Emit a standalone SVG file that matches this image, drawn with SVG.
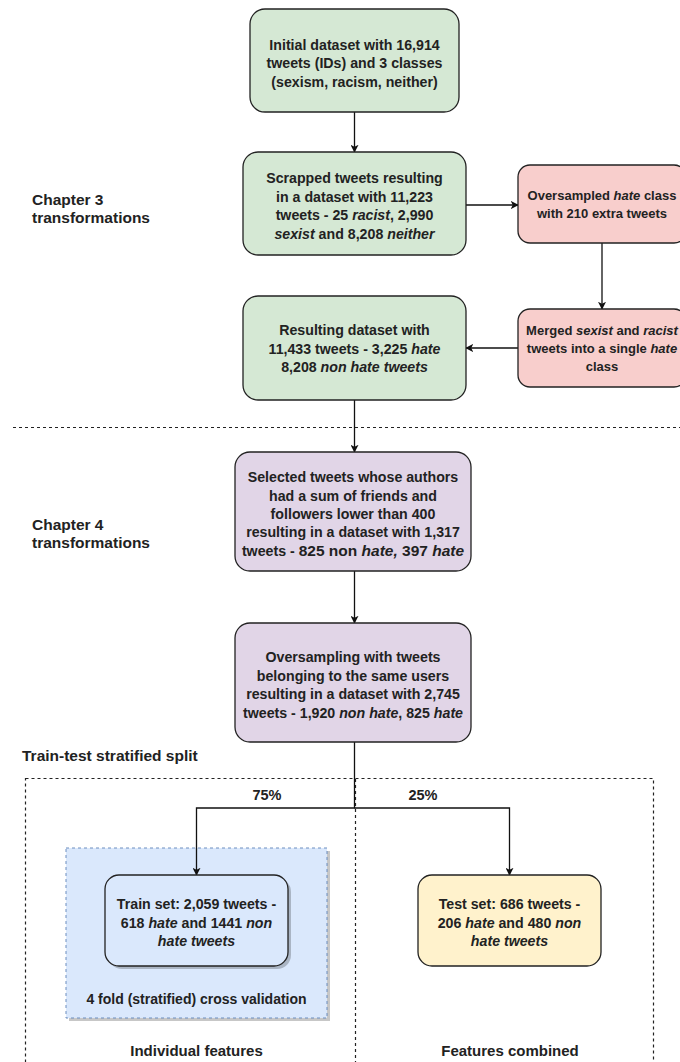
<svg xmlns="http://www.w3.org/2000/svg" width="680" height="1062" viewBox="0 0 680 1062">
  <style>
    text { font-family: "Liberation Sans", Arial, sans-serif; fill: #222; }
    .nt { font-size: 14.2px; font-weight: bold; text-anchor: middle; }
    .rt { font-size: 13px; font-weight: bold; text-anchor: middle; }
    .lbl { font-size: 15.5px; font-weight: bold; }
    .pct { font-size: 14.5px; font-weight: bold; text-anchor: middle; }
    .sec { font-size: 15px; font-weight: bold; text-anchor: middle; }
    .i { font-style: italic; }
    .box { stroke: #222; stroke-width: 1.3; }
    .green { fill: #d5e8d4; }
    .red { fill: #f8cecc; }
    .purple { fill: #e1d5e7; }
    .blue { fill: #dae8fc; }
    .yellow { fill: #fff2cc; }
    .shadow { fill: #000; opacity: 0.22; }
    .conn { fill: none; stroke: #111; stroke-width: 1.3; }
    .dash { fill: none; stroke: #222; stroke-width: 1.2; stroke-dasharray: 3 3; }
  </style>
  <defs>
    <marker id="arrow" viewBox="0 0 10 10" refX="9" refY="5" markerWidth="8" markerHeight="8" markerUnits="userSpaceOnUse" orient="auto">
      <path d="M0,0 L10,5 L0,10 L2.5,5 Z" fill="#111"/>
    </marker>
  </defs>

  <rect width="680" height="1062" fill="#fff"/>

  <!-- section labels and separators -->
  <g id="labels">
    <text class="lbl" x="32" y="205">Chapter 3</text>
    <text class="lbl" x="32" y="223">transformations</text>
    <text class="lbl" x="32" y="529.5">Chapter 4</text>
    <text class="lbl" x="32" y="547.5">transformations</text>
    <text class="lbl" x="22" y="760.5">Train-test stratified split</text>
    <line class="dash" x1="13" y1="427.5" x2="680" y2="427.5"/>
  </g>

  <!-- split area -->
  <g id="split-area">
    <rect class="dash" x="25.5" y="778.5" width="628" height="300"/>
    <line class="dash" x1="355.5" y1="779" x2="355.5" y2="1062"/>
    <text class="pct" x="267" y="800">75%</text>
    <text class="pct" x="423" y="800">25%</text>
    <text class="sec" x="196.5" y="1055.5">Individual features</text>
    <text class="sec" x="510" y="1055.5">Features combined</text>
  </g>

  <!-- cross validation container -->
  <g id="cross-validation">
    <rect class="shadow" x="69" y="851" width="261" height="170"/>
    <rect x="66" y="848" width="261" height="170" fill="#dae8fc" stroke="#6c8ebf" stroke-width="1" stroke-dasharray="3 3"/>
    <text class="nt" x="196.5" y="1004" style="font-size:14px">4 fold (stratified) cross validation</text>
  </g>

  <!-- connectors -->
  <g id="connectors">
    <line class="conn" x1="354.5" y1="112" x2="354.5" y2="152" marker-end="url(#arrow)"/>
    <line class="conn" x1="466" y1="205" x2="518" y2="205" marker-end="url(#arrow)"/>
    <line class="conn" x1="602" y1="243" x2="602" y2="309" marker-end="url(#arrow)"/>
    <line class="conn" x1="518" y1="348" x2="466" y2="348" marker-end="url(#arrow)"/>
    <line class="conn" x1="354.5" y1="400" x2="354.5" y2="452" marker-end="url(#arrow)"/>
    <line class="conn" x1="354.5" y1="571" x2="354.5" y2="623" marker-end="url(#arrow)"/>
    <path class="conn" d="M354.5 742 V808 H196.5 V875" marker-end="url(#arrow)"/>
    <path class="conn" d="M354.5 808 H509.5 V875" marker-end="url(#arrow)"/>
  </g>

  <g id="initial-dataset">
    <rect class="box green" x="250" y="9" width="209" height="103" rx="15"/>
    <text class="nt" x="354.5" y="49.5">Initial dataset with 16,914</text>
    <text class="nt" x="354.5" y="68">tweets (IDs) and 3 classes</text>
    <text class="nt" x="354.5" y="86.5">(sexism, racism, neither)</text>
  </g>

  <g id="scrapped-tweets">
    <rect class="box green" x="243" y="152" width="223" height="103" rx="15"/>
    <text class="nt" x="354.5" y="183">Scrapped tweets resulting</text>
    <text class="nt" x="354.5" y="201.5">in a dataset with 11,223</text>
    <text class="nt" x="354.5" y="220">tweets - 25 <tspan class="i">racist</tspan>, 2,990</text>
    <text class="nt" x="354.5" y="238.5"><tspan class="i">sexist</tspan> and 8,208 <tspan class="i">neither</tspan></text>
  </g>

  <g id="oversampled-hate">
    <rect class="box red" x="518" y="165" width="168" height="78" rx="12"/>
    <text class="rt" x="602" y="200">Oversampled <tspan class="i">hate</tspan> class</text>
    <text class="rt" x="602" y="218">with 210 extra tweets</text>
  </g>

  <g id="merged-classes">
    <rect class="box red" x="518" y="309" width="168" height="78" rx="12"/>
    <text class="rt" x="602" y="335">Merged <tspan class="i">sexist</tspan> and <tspan class="i">racist</tspan></text>
    <text class="rt" x="602" y="353">tweets into a single <tspan class="i">hate</tspan></text>
    <text class="rt" x="602" y="371">class</text>
  </g>

  <g id="resulting-dataset">
    <rect class="box green" x="243" y="296" width="223" height="104" rx="15"/>
    <text class="nt" x="354.5" y="335">Resulting dataset with</text>
    <text class="nt" x="354.5" y="353.5">11,433 tweets - 3,225 <tspan class="i">hate</tspan></text>
    <text class="nt" x="354.5" y="372">8,208 <tspan class="i">non hate tweets</tspan></text>
  </g>

  <g id="selected-tweets">
    <rect class="box purple" x="235" y="452" width="236" height="119" rx="15"/>
    <text class="nt" x="353" y="482">Selected tweets whose authors</text>
    <text class="nt" x="353" y="500.5">had a sum of friends and</text>
    <text class="nt" x="353" y="519">followers lower than 400</text>
    <text class="nt" x="353" y="537">resulting in a dataset with 1,317</text>
    <text class="nt" x="353" y="555.5">tweets - <tspan style="font-size:15.5px">825 non <tspan class="i">hate,</tspan> 397 <tspan class="i">hate</tspan></tspan></text>
  </g>

  <g id="oversampling-users">
    <rect class="box purple" x="235" y="623" width="236" height="119" rx="15"/>
    <text class="nt" x="353" y="662">Oversampling with tweets</text>
    <text class="nt" x="353" y="680.5">belonging to the same users</text>
    <text class="nt" x="353" y="699">resulting in a dataset with 2,745</text>
    <text class="nt" x="353" y="717.5">tweets - 1,920 <tspan class="i">non hate</tspan>, 825 <tspan class="i">hate</tspan></text>
  </g>

  <g id="train-set">
    <rect class="shadow" x="108" y="878" width="183" height="91" rx="14"/>
    <rect class="box" x="105" y="875" width="183" height="91" rx="14" fill="#dae8fc"/>
    <text class="nt" x="196.5" y="909">Train set: 2,059 tweets -</text>
    <text class="nt" x="196.5" y="927.5">618 <tspan class="i">hate</tspan> and 1441 <tspan class="i">non</tspan></text>
    <text class="nt" x="196.5" y="946"><tspan class="i">hate tweets</tspan></text>
  </g>

  <g id="test-set">
    <rect class="box yellow" x="418" y="875" width="183" height="91" rx="14"/>
    <text class="nt" x="509.5" y="909">Test set: 686 tweets -</text>
    <text class="nt" x="509.5" y="927.5">206 <tspan class="i">hate</tspan> and 480 <tspan class="i">non</tspan></text>
    <text class="nt" x="509.5" y="946"><tspan class="i">hate tweets</tspan></text>
  </g>
</svg>
